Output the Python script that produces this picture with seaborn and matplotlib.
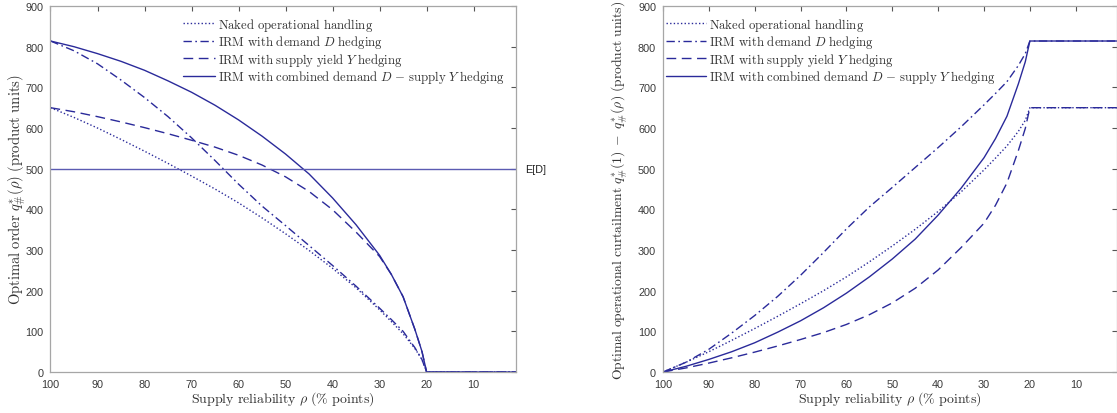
import numpy as np
import pandas as pd
import matplotlib
matplotlib.use("Agg")
import matplotlib.pyplot as plt
import seaborn as sns

# ---------------- data ----------------
rho = [100, 95, 90, 85, 80, 75, 70, 65, 60, 55, 50, 45, 40, 35, 30, 27.5, 25, 22.5, 21, 20, 15, 10, 5, 1]

# left panel: optimal order q*(rho)
order_naked = [650, 626, 600, 572, 543, 513, 482, 450, 416, 379, 340, 299, 255, 207, 153, 124, 94, 58, 31, 0, 0, 0, 0, 0]
order_demand = [814, 790, 758, 718, 675, 628, 576, 520, 462, 408, 360, 311, 262, 211, 157, 129, 100, 60, 31, 0, 0, 0, 0, 0]
order_supply = [650, 640, 628, 615, 601, 586, 570, 553, 533, 509, 480, 444, 399, 344, 284, 240, 185, 105, 51, 0, 0, 0, 0, 0]
order_combined = [814, 800, 783, 764, 742, 716, 688, 656, 620, 580, 536, 487, 428, 362, 287, 240, 185, 105, 51, 0, 0, 0, 0, 0]
expected_demand = 500

# right panel: optimal operational curtailment q*(1) - q*(rho)
curt_naked = [0, 24, 50, 78, 107, 137, 168, 200, 234, 271, 310, 351, 395, 443, 497, 526, 556, 592, 619, 650, 650, 650, 650, 650]
curt_demand = [0, 24, 56, 96, 139, 186, 238, 294, 352, 406, 454, 503, 552, 603, 657, 685, 714, 754, 783, 814, 814, 814, 814, 814]
curt_supply = [0, 10, 22, 35, 49, 64, 80, 97, 117, 141, 170, 206, 251, 306, 366, 410, 465, 545, 599, 650, 650, 650, 650, 650]
curt_combined = [0, 14, 31, 50, 72, 98, 126, 158, 194, 234, 278, 327, 386, 452, 527, 574, 629, 709, 763, 814, 814, 814, 814, 814]

series_labels = [
    r"$\mathrm{Naked\ operational\ handling}$",
    r"$\mathrm{IRM\ with\ demand\ }D\mathrm{\ hedging}$",
    r"$\mathrm{IRM\ with\ supply\ yield\ }Y\mathrm{\ hedging}$",
    r"$\mathrm{IRM\ with\ combined\ demand\ }D\mathrm{\ {-}\ supply\ }Y\mathrm{\ hedging}$",
]
x_ticks = [100, 90, 80, 70, 60, 50, 40, 30, 20, 10]
y_ticks = [0, 100, 200, 300, 400, 500, 600, 700, 800, 900]

# ---------------- style ----------------
sns.set_theme(style="white")
plt.rcParams["font.family"] = ["Liberation Sans", "DejaVu Sans"]
plt.rcParams["mathtext.fontset"] = "cm"

LINE = "#2a2a9a"
HLINE = "#5b5bb2"
SPINE = "#a6a6a6"
TICKTXT = "#3a3a3a"
styles = [(0, (1, 1.6)), (0, (6, 2.5, 1.2, 2.5)), (0, (7, 4)), "-"]

fig = plt.figure(figsize=(11.17, 4.14), dpi=100)
axL = fig.add_axes([0.0452, 0.099, 0.4167, 0.884])
axR = fig.add_axes([0.5936, 0.099, 0.4064, 0.884])


def style_axes(ax):
    ax.set_xlim(100, 1)
    ax.set_ylim(0, 900)
    ax.set_xticks(x_ticks)
    ax.set_yticks(y_ticks)
    ax.tick_params(direction="in", top=True, right=True, length=3.5, width=0.8,
                   color="#555555", labelsize=7.8, labelcolor=TICKTXT, pad=5)
    for s in ax.spines.values():
        s.set_color(SPINE)
        s.set_linewidth(0.9)
    ax.set_xlabel(r"$\mathrm{Supply\ reliability\ }\rho\mathrm{\ (\%\ points)}$",
                  fontsize=10, color="#333333", labelpad=0)


def add_legend(ax, x0, hl):
    ax.legend(frameon=False, loc="upper left", bbox_to_anchor=(x0, 0.995),
              handlelength=hl, fontsize=9.2, labelspacing=0.05, handletextpad=0.25,
              borderaxespad=0.2, labelcolor="#333333")


# left panel
left_series = [order_naked, order_demand, order_supply, order_combined]
for vals, lab, ls in zip(left_series, series_labels, styles):
    sns.lineplot(x=rho, y=vals, ax=axL, color=LINE, linestyle=ls, linewidth=1.0,
                 label=lab, sort=False)
axL.axhline(expected_demand, color=HLINE, linewidth=1.0)
axL.text(1.019, expected_demand, "E[D]", transform=axL.get_yaxis_transform(),
         ha="left", va="center", fontsize=7.8, color="#222222")
style_axes(axL)
axL.set_ylabel(r"$\mathrm{Optimal\ order\ }q^{*}_{\#}(\rho)\mathrm{\ (product\ units)}$",
               fontsize=10.5, color="#333333", labelpad=-1.5)
add_legend(axL, 0.268, 2.5)

# right panel
right_series = [curt_naked, curt_demand, curt_supply, curt_combined]
for vals, lab, ls in zip(right_series, series_labels, styles):
    sns.lineplot(x=rho, y=vals, ax=axR, color=LINE, linestyle=ls, linewidth=1.0,
                 label=lab, sort=False)
style_axes(axR)
axR.set_ylabel(r"$\mathrm{Optimal\ operational\ curtailment\ }q^{*}_{\#}(1)\ -\ q^{*}_{\#}(\rho)\mathrm{\ (product\ units)}$",
               fontsize=9.8, color="#333333", labelpad=5.5)
add_legend(axR, -0.01, 3.1)

fig.savefig("out.png", dpi=100, facecolor="white")
